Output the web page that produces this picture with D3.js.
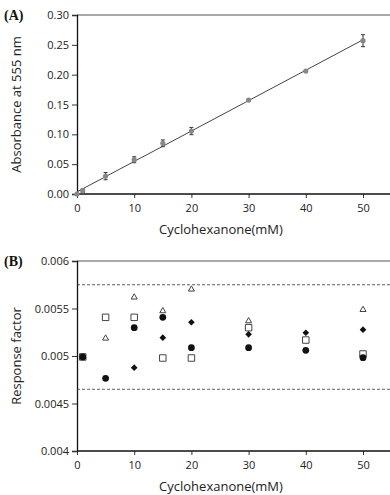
<!DOCTYPE html>
<html>
<head>
<meta charset="utf-8">
<script src="https://cdn.jsdelivr.net/npm/d3@7"></script>
<style>
body { margin: 0; background: #fff; }
svg text { font-family: "Open Sans", sans-serif; fill: #222; }
.panel-tag { font-family: "Liberation Serif", serif; font-weight: bold; font-size: 14px; fill: #111; }
</style>
</head>
<body>
<div id="chart"></div>
<script>
// panel A: calibration
var concA = [0, 1, 5, 10, 15, 20, 30, 40, 50];
var absorbance = [0, 0.0055, 0.030, 0.0575, 0.085, 0.1055, 0.1575, 0.206, 0.257];
var absErr = [0, 0.003, 0.006, 0.005, 0.0056, 0.006, 0.001, 0.001, 0.010];
var yTicksA = [0, 0.05, 0.10, 0.15, 0.20, 0.25, 0.30];

// panel B: response factors, four series
var concB = [1, 5, 10, 15, 20, 30, 40, 50];
var rfCircle = [0.00499, 0.004765, 0.005298, 0.005407, 0.005087, 0.005087, 0.00506, 0.004982];
var rfDiamond = [0.00499, null, 0.004877, 0.005193, 0.005355, 0.005228, 0.005245, 0.005277];
var rfSquare = [0.00499, 0.005407, 0.005407, 0.004979, 0.004979, 0.005298, 0.005168, 0.005021];
var rfTriangle = [0.00499, 0.005186, 0.005618, 0.005474, 0.005702, 0.005368, null, 0.005487];
var limitsB = [0.00575, 0.00465];
var yTicksB = [0.004, 0.0045, 0.005, 0.0055, 0.006];
var xTicks = [0, 10, 20, 30, 40, 50];

var width = 390, height = 495;
var svg = d3.select("#chart").append("svg")
    .attr("width", width)
    .attr("height", height);

var x = d3.scaleLinear().domain([0, 50]).range([77, 363]);
var yA = d3.scaleLinear().domain([0, 0.30]).range([194, 15]);
var yB = d3.scaleLinear().domain([0.004, 0.006]).range([451, 261]);

function drawFrame(y, ticks, fmt, yLabel, tag) {
    var top = y.range()[1], bottom = y.range()[0];

    // top border
    svg.append("line")
        .attr("x1", x(0)).attr("x2", width)
        .attr("y1", top).attr("y2", top)
        .attr("stroke", "#555").attr("stroke-width", 1);

    // y axis
    var ya = svg.append("g")
        .attr("transform", "translate(" + x(0) + ",0)")
        .call(d3.axisLeft(y).tickValues(ticks).tickFormat(fmt).tickSize(5).tickPadding(3));
    ya.select(".domain").attr("stroke", "#111").attr("stroke-width", 1.3);
    ya.selectAll(".tick line").attr("stroke", "#333");
    ya.selectAll("text").attr("font-size", 11).attr("fill", "#222");

    // x axis
    var xa = svg.append("g")
        .attr("transform", "translate(0," + bottom + ")")
        .call(d3.axisBottom(x).tickValues(xTicks).tickSize(4).tickPadding(6));
    xa.select(".domain").remove();
    xa.append("line")
        .attr("x1", x(0)).attr("x2", width)
        .attr("stroke", "#111").attr("stroke-width", 1.3);
    xa.selectAll(".tick line").attr("stroke", "#333");
    xa.selectAll("text").attr("font-size", 11).attr("fill", "#222");

    // axis titles
    svg.append("text")
        .attr("x", 221).attr("y", bottom + 40)
        .attr("text-anchor", "middle")
        .attr("font-size", 13)
        .text("Cyclohexanone(mM)");

    svg.append("text")
        .attr("transform", "translate(21," + (top + bottom) / 2 + ") rotate(-90)")
        .attr("text-anchor", "middle")
        .attr("font-size", 13)
        .text(yLabel);

    svg.append("text")
        .attr("class", "panel-tag")
        .attr("x", 4).attr("y", top + 5)
        .text(tag);
}

// panel A
drawFrame(yA, yTicksA, d3.format(".2f"), "Absorbance at 555 nm", "(A)");

var ptsA = concA.map((c, i) => ({x: c, y: absorbance[i], e: absErr[i]}));

// least squares fit
var mx = d3.mean(ptsA, d => d.x), my = d3.mean(ptsA, d => d.y);
var slope = d3.sum(ptsA, d => (d.x - mx) * (d.y - my)) / d3.sum(ptsA, d => (d.x - mx) * (d.x - mx));
var icept = my - slope * mx;

svg.append("line")
    .attr("x1", x(0)).attr("y1", yA(Math.max(0, icept)))
    .attr("x2", x(50)).attr("y2", yA(icept + slope * 50))
    .attr("stroke", "#444").attr("stroke-width", 1);

var errA = svg.append("g").selectAll("g")
    .data(ptsA.filter(d => d.e > 0))
    .enter().append("g")
    .attr("stroke", "#444").attr("stroke-width", 1.1);

errA.append("line")
    .attr("x1", d => x(d.x)).attr("x2", d => x(d.x))
    .attr("y1", d => yA(d.y - d.e)).attr("y2", d => yA(d.y + d.e));
errA.append("line")
    .attr("x1", d => x(d.x) - 2).attr("x2", d => x(d.x) + 2)
    .attr("y1", d => yA(d.y - d.e)).attr("y2", d => yA(d.y - d.e));
errA.append("line")
    .attr("x1", d => x(d.x) - 2).attr("x2", d => x(d.x) + 2)
    .attr("y1", d => yA(d.y + d.e)).attr("y2", d => yA(d.y + d.e));

svg.append("g").selectAll("circle")
    .data(ptsA)
    .enter().append("circle")
    .attr("cx", d => x(d.x))
    .attr("cy", d => yA(d.y))
    .attr("r", 2.6)
    .attr("fill", "#888");

// panel B
drawFrame(yB, yTicksB, d3.format(""), "Response factor", "(B)");

svg.append("g").selectAll("line")
    .data(limitsB)
    .enter().append("line")
    .attr("x1", x(0)).attr("x2", width)
    .attr("y1", d => yB(d)).attr("y2", d => yB(d))
    .attr("stroke", "#333").attr("stroke-width", 0.8)
    .attr("stroke-dasharray", "3,2");

// rotate: 45 turns the square symbol into a square-ish diamond
var seriesB = [
    {vals: rfSquare, sym: d3.symbolSquare, size: 42, rot: 0, fill: "#fff", stroke: "#444"},
    {vals: rfTriangle, sym: d3.symbolTriangle, size: 16, rot: 0, fill: "#fff", stroke: "#444"},
    {vals: rfDiamond, sym: d3.symbolSquare, size: 22, rot: 45, fill: "#111", stroke: "none"},
    {vals: rfCircle, sym: d3.symbolCircle, size: 36, rot: 0, fill: "#111", stroke: "none"}
];

seriesB.forEach(function(s) {
    var pts = concB.map((c, i) => ({x: c, y: s.vals[i]})).filter(d => d.y != null);
    svg.append("g").selectAll("path")
        .data(pts)
        .enter().append("path")
        .attr("transform", d => "translate(" + x(d.x) + "," + yB(d.y) + ") rotate(" + s.rot + ")")
        .attr("d", d3.symbol().type(s.sym).size(s.size))
        .attr("fill", s.fill)
        .attr("stroke", s.stroke)
        .attr("stroke-width", 1);
});
</script>
</body>
</html>
